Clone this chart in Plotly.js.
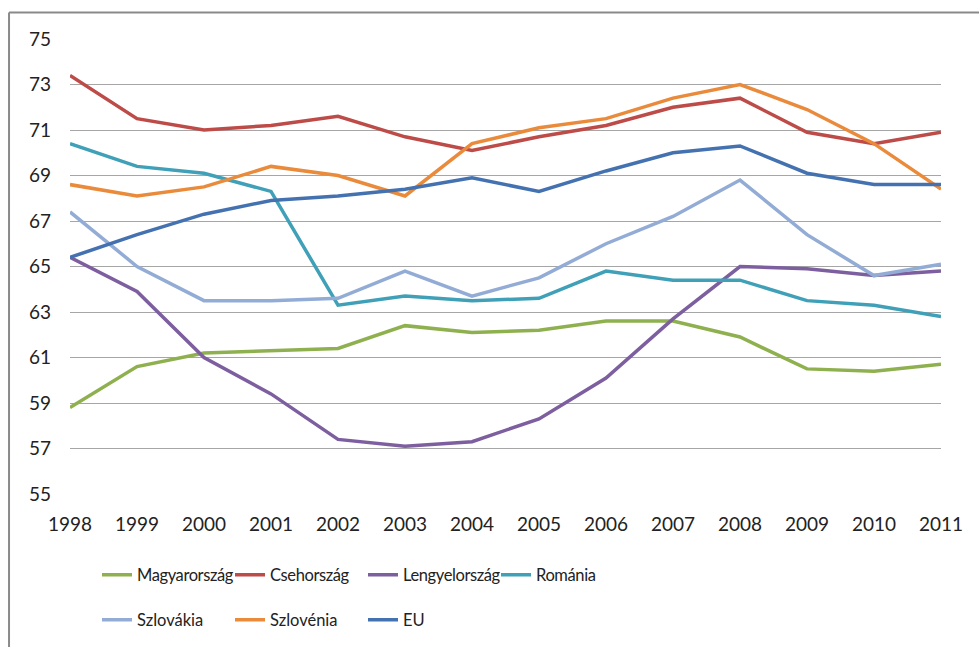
<!DOCTYPE html>
<html>
<head>
<meta charset="utf-8">
<script src="https://cdn.plot.ly/plotly-3.0.1.min.js"></script>
<style>
  body { margin: 0; background: #fff; }
  #chart { width: 979px; height: 647px; }
  /* Calibri-like narrow legend labels */
  #chart .legendtext { letter-spacing: -0.4px; }
</style>
</head>
<body>
<div id="chart"></div>
<script>
const years = [1998, 1999, 2000, 2001, 2002, 2003, 2004, 2005, 2006, 2007, 2008, 2009, 2010, 2011];

const magyarorszag   = [58.8, 60.6, 61.2, 61.3, 61.4, 62.4, 62.1, 62.2, 62.6, 62.6, 61.9, 60.5, 60.4, 60.7];
const csehorszag     = [73.4, 71.5, 71.0, 71.2, 71.6, 70.7, 70.1, 70.7, 71.2, 72.0, 72.4, 70.9, 70.4, 70.9];
const lengyelorszag  = [65.4, 63.9, 61.0, 59.4, 57.4, 57.1, 57.3, 58.3, 60.1, 62.7, 65.0, 64.9, 64.6, 64.8];
const romania        = [70.4, 69.4, 69.1, 68.3, 63.3, 63.7, 63.5, 63.6, 64.8, 64.4, 64.4, 63.5, 63.3, 62.8];
const szlovakia      = [67.4, 65.0, 63.5, 63.5, 63.6, 64.8, 63.7, 64.5, 66.0, 67.2, 68.8, 66.4, 64.6, 65.1];
const szlovenia      = [68.6, 68.1, 68.5, 69.4, 69.0, 68.1, 70.4, 71.1, 71.5, 72.4, 73.0, 71.9, 70.4, 68.4];
const eu             = [65.4, 66.4, 67.3, 67.9, 68.1, 68.4, 68.9, 68.3, 69.2, 70.0, 70.3, 69.1, 68.6, 68.6];

const yTicks = [55, 57, 59, 61, 63, 65, 67, 69, 71, 73, 75];

const FONT = 'Lato, "Liberation Sans", sans-serif';

function line(name, y, color, legend) {
  return {
    x: years, y: y, name: name, type: 'scatter', mode: 'lines',
    line: { color: color, width: 3.5 },
    legend: legend
  };
}

// draw order: later traces sit on top
const traces = [
  line('Magyarország', magyarorszag, '#8fb04f', 'legend'),
  line('Csehország', csehorszag, '#bd4b48', 'legend'),
  line('Lengyelország', lengyelorszag, '#7d5fa0', 'legend'),
  line('Románia', romania, '#3fa0b8', 'legend'),
  line('Szlovákia', szlovakia, '#93acd6', 'legend2'),
  line('Szlovénia', szlovenia, '#ea8a3b', 'legend2'),
  line('EU', eu, '#4472b0', 'legend2')
];

const legendBase = {
  orientation: 'h',
  xanchor: 'left', yanchor: 'middle',
  font: { family: FONT, size: 16.5, color: '#222' },
  entrywidth: 88, entrywidthmode: 'pixels',
  itemwidth: 30,
  bgcolor: 'rgba(0,0,0,0)',
  traceorder: 'normal'
};

const layout = {
  width: 979, height: 647,
  margin: { l: 70, r: 38, t: 39, b: 153, autoexpand: false },
  paper_bgcolor: '#fff', plot_bgcolor: '#fff',
  font: { family: FONT, color: '#222' },
  showlegend: true,
  legend: Object.assign({}, legendBase, { x: 0.031, y: -0.178 }),
  legend2: Object.assign({}, legendBase, { x: 0.031, y: -0.277 }),
  xaxis: {
    range: [1998, 2011],
    tickvals: years,
    ticktext: years.map(String),
    showgrid: false, zeroline: false, showline: false,
    ticks: '',
    ticklabelstandoff: 17,
    tickfont: { family: FONT, size: 19, color: '#222' }
  },
  yaxis: {
    range: [55, 75],
    tickvals: yTicks,
    showgrid: true, gridcolor: '#a6a6a6', gridwidth: 1,
    zeroline: false, showline: false,
    ticks: '',
    ticklabelstandoff: 18,
    tickfont: { family: FONT, size: 19, color: '#222' }
  },
  shapes: [
    // chart frame (top and left edges only are visible)
    { type: 'line', xref: 'paper', yref: 'paper', x0: -0.070, x1: 1.05, y0: 1.0585, y1: 1.0585,
      line: { color: '#8a8a8a', width: 2 } },
    { type: 'line', xref: 'paper', yref: 'paper', x0: -0.070, x1: -0.070, y0: 1.0585, y1: -0.34,
      line: { color: '#8a8a8a', width: 2 } }
  ]
};

Plotly.newPlot('chart', traces, layout, { staticPlot: true, displayModeBar: false });
</script>
</body>
</html>
